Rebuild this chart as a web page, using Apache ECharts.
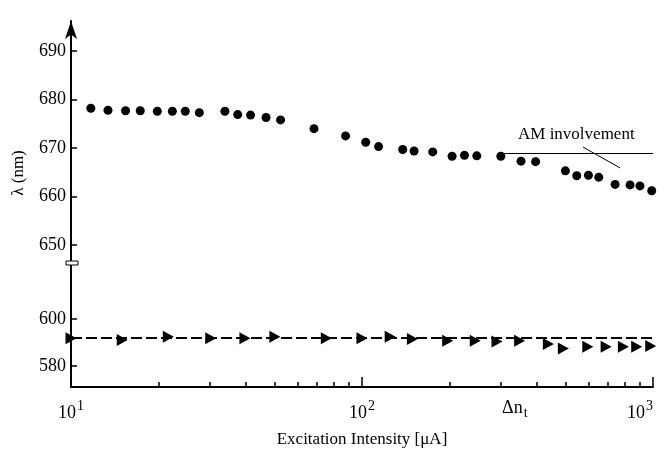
<!DOCTYPE html>
<html>
<head>
<meta charset="utf-8">
<title>Lambda vs excitation intensity</title>
<script src="https://cdn.jsdelivr.net/npm/echarts@6/dist/echarts.min.js"></script>
<style>
  html, body { margin: 0; padding: 0; background: #fff; }
  #main { width: 664px; height: 458px; }
</style>
</head>
<body>
<div id="main"></div>
<script>
// upper panel: filled circles
var circleX = [11.7, 13.4, 15.4, 17.3, 19.8, 22.3, 24.7, 27.6, 33.8, 37.4, 41.4, 46.8, 52.5, 68.4, 87.8,
               103, 114, 138, 151, 175, 204, 225, 248, 300, 352, 395, 500, 547, 600, 651, 741, 834, 902, 990];
var circleY = [678.2, 677.8, 677.7, 677.7, 677.6, 677.6, 677.6, 677.3, 677.6, 676.9, 676.8, 676.3, 675.8, 674.0, 672.5,
               671.2, 670.3, 669.7, 669.4, 669.2, 668.3, 668.5, 668.4, 668.3, 667.3, 667.2, 665.3, 664.3, 664.4, 664.0, 662.5, 662.4, 662.2, 661.2];

// lower panel: triangles
var triX = [10, 15.0, 21.6, 30.2, 39.6, 50.2, 75.4, 100, 125, 149, 197, 245, 291, 348, 437, 492, 597, 690, 791, 879, 982];
var triY = [591.8, 591.1, 592.5, 591.8, 591.8, 592.5, 591.8, 591.8, 592.5, 591.5, 590.8, 590.8, 590.4, 590.8, 589.4, 587.5,
            588.2, 588.2, 588.2, 588.2, 588.5];
var triLevel = 592;

// "AM involvement" annotation
var amLine = [[300, 669], [1000, 669]];
var amLeader = [[575, 670.2], [771, 665.9]];

// axes
var xTicks = [10, 20, 30, 40, 50, 60, 70, 80, 90, 100, 200, 300, 400, 500, 600, 700, 800, 900, 1000];
var xMajorTicks = [100, 1000];
var xLabelValues = [10, 100, 335, 1000];
var xLabelTexts = ['{n|10}{sup|1}', '{n|10}{sup|2}', '{n|\u0394n}{sub|t}', '{n|10}{sup|3}'];
var yTopTicks = [650, 660, 670, 680, 690];
var yBottomTicks = [580, 600];

var serif = '"Liberation Serif", "DejaVu Serif", serif';

function zip(xs, ys) {
    return xs.map(function (x, i) { return [x, ys[i]]; });
}

var myChart = echarts.init(document.getElementById('main'));

var axisLineStyle = { color: '#000', width: 2 };
var tickStyle = { color: '#000', width: 1.5 };
var yLabel = { color: '#000', fontFamily: serif, fontSize: 18, margin: 5 };

var option = {
    backgroundColor: '#fff',
    animation: false,
    grid: [
        { left: 71, right: 11, top: 21, height: 242, outerBoundsMode: 'none' },
        { left: 71, right: 11, top: 263, height: 124, outerBoundsMode: 'none' }
    ],
    xAxis: [
        { gridIndex: 0, type: 'log', logBase: 10, min: 10, max: 1000, show: false },
        {
            gridIndex: 1, type: 'log', logBase: 10, min: 10, max: 1000, position: 'bottom',
            axisLine: { show: true, lineStyle: axisLineStyle },
            axisTick: { show: true, inside: true, length: 5, lineStyle: tickStyle, customValues: xTicks },
            splitLine: { show: false },
            axisLabel: {
                customValues: xLabelValues,
                margin: 12,
                alignMaxLabel: 'right',
                formatter: function (v) {
                    for (var i = 0; i < xLabelValues.length; i++) {
                        if (Math.abs(Math.log10(v / xLabelValues[i])) < 0.01) return xLabelTexts[i];
                    }
                    return '';
                },
                rich: {
                    n: { color: '#000', fontFamily: serif, fontSize: 18, verticalAlign: 'bottom' },
                    sup: { color: '#000', fontFamily: serif, fontSize: 14, verticalAlign: 'bottom', padding: [0, 0, 9, 1] },
                    sub: { color: '#000', fontFamily: serif, fontSize: 14, verticalAlign: 'bottom', padding: [0, 0, -3, 1] }
                }
            },
            name: 'Excitation Intensity [\u03bcA]',
            nameLocation: 'middle',
            nameGap: 44,
            nameTextStyle: { color: '#000', fontFamily: serif, fontSize: 17 }
        },
        {
            // longer ticks at the decades
            gridIndex: 1, type: 'log', logBase: 10, min: 10, max: 1000, position: 'bottom',
            axisLine: { show: false },
            axisTick: { show: true, inside: true, length: 10, lineStyle: tickStyle, customValues: xMajorTicks },
            axisLabel: { show: false },
            splitLine: { show: false }
        }
    ],
    yAxis: [
        {
            gridIndex: 0, type: 'value', min: 646.3, max: 696.2,
            axisLine: { show: true, symbol: ['none', 'arrow'], symbolSize: [9, 18], lineStyle: axisLineStyle },
            axisTick: { show: true, inside: true, length: 6, lineStyle: tickStyle, customValues: yTopTicks },
            axisLabel: Object.assign({ customValues: yTopTicks }, yLabel),
            splitLine: { show: false }
        },
        {
            gridIndex: 1, type: 'value', min: 571, max: 624,
            axisLine: { show: true, lineStyle: axisLineStyle },
            axisTick: { show: true, inside: true, length: 6, lineStyle: tickStyle, customValues: yBottomTicks },
            axisLabel: Object.assign({ customValues: yBottomTicks }, yLabel),
            splitLine: { show: false }
        }
    ],
    series: [
        {
            name: 'circles', type: 'scatter', xAxisIndex: 0, yAxisIndex: 0,
            symbol: 'circle', symbolSize: 9,
            itemStyle: { color: '#000', opacity: 1 },
            data: zip(circleX, circleY),
            markLine: {
                silent: true, symbol: ['none', 'none'], label: { show: false },
                lineStyle: { color: '#000', width: 1, type: 'solid' },
                data: [
                    [{ coord: amLine[0] }, { coord: amLine[1] }],
                    [{ coord: amLeader[0] }, { coord: amLeader[1] }]
                ]
            }
        },
        {
            name: 'triangles', type: 'scatter', xAxisIndex: 1, yAxisIndex: 1,
            symbol: 'triangle', symbolSize: [12, 11], symbolRotate: -90,
            itemStyle: { color: '#000', opacity: 1 },
            data: zip(triX, triY),
            markLine: {
                silent: true, symbol: ['none', 'none'], label: { show: false },
                lineStyle: { color: '#000', width: 2, type: [11, 4] },
                data: [[{ coord: [10, triLevel] }, { coord: [1000, triLevel] }]]
            }
        }
    ],
    graphic: [
        // axis break marker
        { type: 'rect', shape: { x: 66, y: 261, width: 12, height: 4 },
          style: { fill: '#fff', stroke: '#000', lineWidth: 1 }, z: 100 },
        { type: 'text', x: 19, y: 173, rotation: Math.PI / 2,
          style: { text: '\u03bb (nm)', fill: '#000', font: '17px ' + serif, align: 'center', verticalAlign: 'middle' } },
        { type: 'text', x: 518, y: 126,
          style: { text: 'AM involvement', fill: '#000', font: '17px ' + serif, align: 'left', verticalAlign: 'top' } }
    ]
};

myChart.setOption(option);
</script>
</body>
</html>
